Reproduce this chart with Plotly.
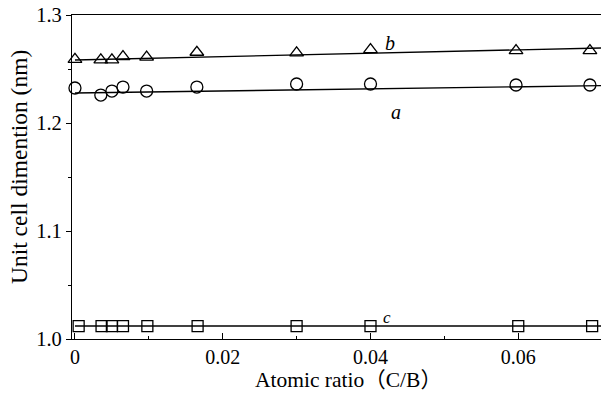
import plotly.graph_objects as go

# Data
x_ab = [0.0, 0.0035, 0.005, 0.0065, 0.0097, 0.0165, 0.03, 0.04, 0.0597, 0.0697]
x_c = [0.0005, 0.0036, 0.005, 0.0065, 0.0098, 0.0166, 0.03, 0.04, 0.06, 0.07]
b_vals = [1.259, 1.2585, 1.2585, 1.2615, 1.261, 1.2655, 1.265, 1.268, 1.267, 1.267]
a_vals = [1.2324, 1.2259, 1.2296, 1.2333, 1.2296, 1.2333, 1.2361, 1.2361, 1.2352, 1.2352]
c_vals = [1.012, 1.012, 1.012, 1.012, 1.012, 1.012, 1.012, 1.012, 1.012, 1.012]

fit_x = [0.0, 0.0712]
fit_b = [1.2583, 1.2695]
fit_a = [1.2278, 1.2346]
fit_c = [1.012, 1.012]

x_ticks = [0, 0.02, 0.04, 0.06]
x_tick_text = ["0", "0.02", "0.04", "0.06"]
y_ticks = [1.0, 1.1, 1.2, 1.3]
y_tick_text = ["1.0", "1.1", "1.2", "1.3"]
x_title = "Atomic ratio（C/B）"
y_title = "Unit cell dimention (nm)"

FONT = "Liberation Serif, Times New Roman, Noto Sans CJK SC, serif"
fig = go.Figure()

for fy in (fit_b, fit_a, fit_c):
    fig.add_trace(go.Scatter(x=fit_x, y=fy, mode="lines",
                             line=dict(color="black", width=1.4),
                             showlegend=False, hoverinfo="skip", cliponaxis=True))

fig.add_trace(go.Scatter(x=x_ab, y=b_vals, mode="markers", cliponaxis=False,
                         marker=dict(symbol="triangle-up-open", size=12,
                                     color="black", line=dict(width=1.3, color="black")),
                         showlegend=False))
fig.add_trace(go.Scatter(x=x_ab, y=a_vals, mode="markers", cliponaxis=False,
                         marker=dict(symbol="circle-open", size=12,
                                     color="black", line=dict(width=1.3, color="black")),
                         showlegend=False))
fig.add_trace(go.Scatter(x=x_c, y=c_vals, mode="markers", cliponaxis=False,
                         marker=dict(symbol="square-open", size=11,
                                     color="black", line=dict(width=1.3, color="black")),
                         showlegend=False))

for txt, xv, yv, sz in [("b", 0.0427, 1.2745, 20), ("a", 0.0434, 1.2102, 20), ("c", 0.0422, 1.0195, 17)]:
    fig.add_annotation(x=xv, y=yv, text="<i>%s</i>" % txt, showarrow=False,
                       xanchor="center", yanchor="middle",
                       font=dict(family=FONT, size=sz, color="black"))

# axis titles placed as paper annotations to match the reference position
fig.add_annotation(xref="paper", yref="paper", x=0.522, y=-0.128, text=x_title,
                   xanchor="center", yanchor="middle",
                   showarrow=False, font=dict(family=FONT, size=21.5, color="black"))
fig.add_annotation(xref="paper", yref="paper", x=-0.1, y=0.531, text=y_title,
                   xanchor="center", yanchor="middle",
                   textangle=-90, showarrow=False,
                   font=dict(family=FONT, size=23.5, color="black"))

fig.update_layout(
    width=601, height=395,
    margin=dict(l=72, r=0, t=15, b=56),
    plot_bgcolor="white", paper_bgcolor="white",
    font=dict(family=FONT, color="black", size=18),
    xaxis=dict(range=[-0.0004, 0.0712], tickvals=x_ticks, ticktext=x_tick_text,
               automargin=False,
               ticks="inside", ticklen=6, tickwidth=1, tickcolor="black",
               showline=True, linecolor="black", linewidth=1.3, mirror=True,
               showgrid=False, zeroline=False,
               tickfont=dict(family=FONT, size=20),
               minor=dict(tickvals=[0.01, 0.03, 0.05], ticks="inside", ticklen=3,
                          tickcolor="black", showgrid=False)),
    yaxis=dict(range=[1.0, 1.3], tickvals=y_ticks, ticktext=y_tick_text,
               automargin=False,
               ticks="outside", ticklen=5, tickwidth=1, tickcolor="black",
               showline=True, linecolor="black", linewidth=1.3,
               showgrid=False, zeroline=False,
               tickfont=dict(family=FONT, size=20.5),
               minor=dict(tickvals=[1.05, 1.15, 1.25], ticks="outside", ticklen=3,
                          tickcolor="black", showgrid=False)),
)

# remove the default 8px page margin so the figure sits exactly in the 601x395 window
fig.write_html("out.html", config={"displayModeBar": False},
               post_script="document.body.style.margin='0';document.body.style.overflow='hidden';")
